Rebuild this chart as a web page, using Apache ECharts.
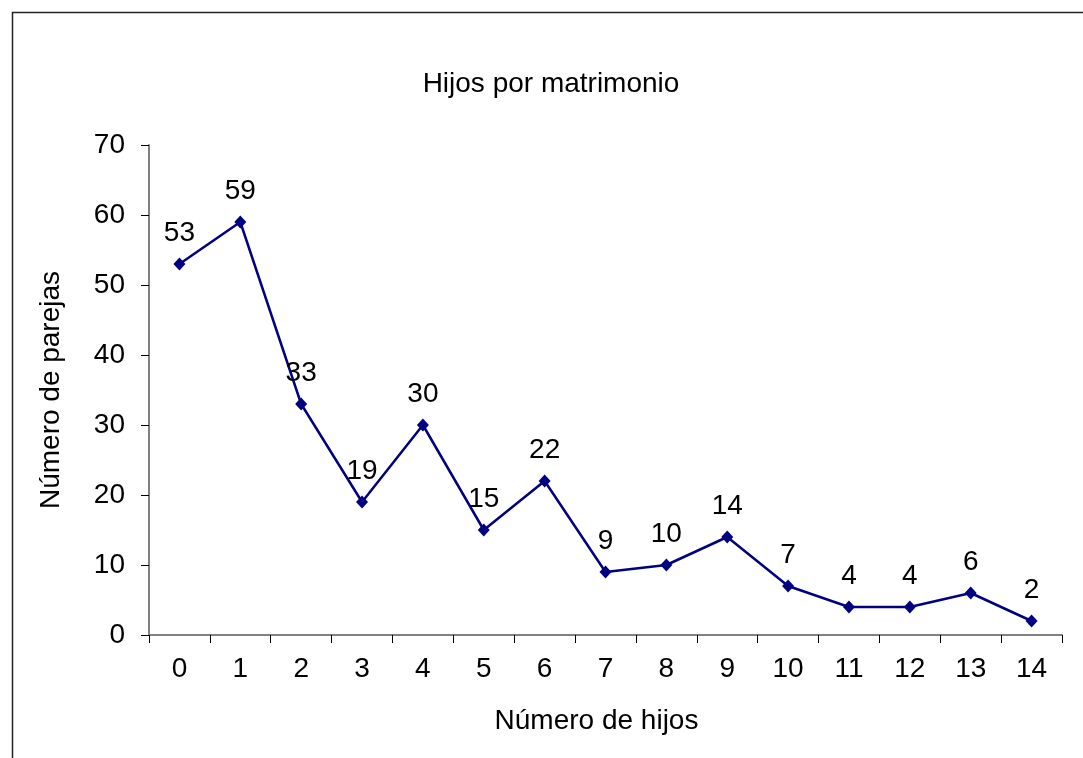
<!DOCTYPE html>
<html>
<head>
<meta charset="utf-8">
<script src="https://cdn.jsdelivr.net/npm/echarts@6/dist/echarts.min.js"></script>
<style>
  html, body { margin: 0; padding: 0; background: #fff; }
  #chart { width: 1083px; height: 758px; }
</style>
</head>
<body>
<div id="chart"></div>
<script>
// number of children per couple
var hijos = ['0', '1', '2', '3', '4', '5', '6', '7', '8', '9', '10', '11', '12', '13', '14']
var parejas = [53, 59, 33, 19, 30, 15, 22, 9, 10, 14, 7, 4, 4, 6, 2]

var font = 'Liberation Sans, Arial, sans-serif'

var chart = echarts.init(document.getElementById('chart'))
chart.setOption({
  backgroundColor: '#fff',
  animation: false,
  title: {
    text: 'Hijos por matrimonio',
    left: 546,
    top: 65,
    textAlign: 'center',
    textStyle: { fontFamily: font, fontSize: 28, fontWeight: 'normal', color: '#000' }
  },
  graphic: [{
    type: 'rect',
    left: 10,
    top: 10,
    shape: { width: 1200, height: 900 },
    style: { fill: 'none', stroke: '#222', lineWidth: 1.5 },
    silent: true
  }],
  grid: {
    left: 149,
    top: 145,
    right: 21,
    bottom: 123,
    containLabel: false
  },
  xAxis: {
    type: 'category',
    data: hijos,
    boundaryGap: true,
    name: 'Número de hijos',
    nameLocation: 'middle',
    nameGap: 72,
    nameTextStyle: { fontFamily: font, fontSize: 28, color: '#000', padding: [0, 18, 0, 0] },
    axisLine: { lineStyle: { color: '#808080', width: 2 } },
    axisTick: { show: true, alignWithLabel: false, length: 8, lineStyle: { color: '#000', width: 1 } },
    axisLabel: { fontFamily: font, fontSize: 28, color: '#000', margin: 20 },
    splitLine: { show: false }
  },
  yAxis: {
    type: 'value',
    min: 0,
    max: 70,
    interval: 10,
    name: 'Número de parejas',
    nameLocation: 'middle',
    nameGap: 84,
    nameTextStyle: { fontFamily: font, fontSize: 28, color: '#000' },
    axisLine: { show: true, lineStyle: { color: '#808080', width: 2 } },
    axisTick: { show: true, length: 8, lineStyle: { color: '#000', width: 1 } },
    axisLabel: { fontFamily: font, fontSize: 28, color: '#000', margin: 24 },
    splitLine: { show: false }
  },
  series: [{
    type: 'line',
    data: parejas,
    symbol: 'diamond',
    symbolSize: [12, 13],
    itemStyle: { color: '#000080' },
    lineStyle: { color: '#000080', width: 2.5 },
    label: {
      show: true,
      position: 'top',
      distance: 10,
      fontFamily: font,
      fontSize: 28,
      color: '#000'
    }
  }]
})
</script>
</body>
</html>
